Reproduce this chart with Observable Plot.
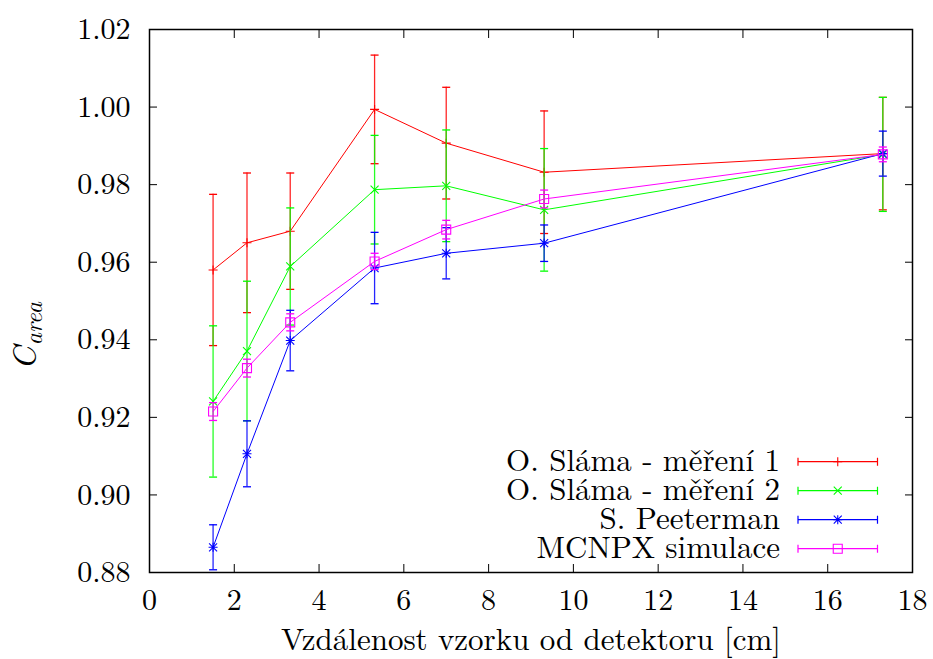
<!DOCTYPE html>
<html><head><meta charset="utf-8">
<script src="https://cdn.jsdelivr.net/npm/d3@7"></script>
<script src="https://cdn.jsdelivr.net/npm/@observablehq/plot@0.6"></script>
<style>body{margin:0;background:#fff;}</style>
</head><body><div id="chart"></div>
<script>
// ---- data ----
const distances = [1.5, 2.3, 3.32, 5.31, 7.0, 9.31, 17.3];
const seriesNames = ["O. Sláma - měření 1", "O. Sláma - měření 2", "S. Peeterman", "MCNPX simulace"];
const seriesColors = ["#ff0000", "#00ff00", "#0000ff", "#ff00ff"];
const slama1    = [0.958, 0.965, 0.968, 0.9994, 0.9907, 0.9832, 0.9880];
const slama1Err = [0.0195, 0.018, 0.015, 0.014, 0.0144, 0.0158, 0.0145];
const slama2    = [0.9241, 0.9371, 0.9589, 0.9787, 0.9797, 0.9735, 0.9878];
const slama2Err = [0.0195, 0.018, 0.0151, 0.014, 0.0144, 0.0158, 0.0147];
const peeterman    = [0.8865, 0.9106, 0.9398, 0.9585, 0.9623, 0.9649, 0.9880];
const peetermanErr = [0.0058, 0.0085, 0.0078, 0.0092, 0.0066, 0.0047, 0.0058];
const mcnpx    = [0.9215, 0.9327, 0.9445, 0.9602, 0.9684, 0.9763, 0.9878];
const mcnpxErr = [0.0023, 0.0023, 0.0022, 0.0021, 0.0024, 0.0023, 0.0019];
const xTicks = [0, 2, 4, 6, 8, 10, 12, 14, 16, 18];
const yTicks = [0.88, 0.90, 0.92, 0.94, 0.96, 0.98, 1.00, 1.02];
const xLabel = "Vzdálenost vzorku od detektoru [cm]";

const seriesValues = [slama1, slama2, peeterman, mcnpx];
const seriesErrors = [slama1Err, slama2Err, peetermanErr, mcnpxErr];

const FONT = "Latin Modern Roman";

// ---- symbols ----
const capSym = {draw(c){c.moveTo(-4,0);c.lineTo(4,0);}};
const plusSym = {draw(c){c.moveTo(-4.5,0);c.lineTo(4.5,0);c.moveTo(0,-4.5);c.lineTo(0,4.5);}};
const timesSym = {draw(c){c.moveTo(-4,-4);c.lineTo(4,4);c.moveTo(-4,4);c.lineTo(4,-4);}};
const starSym = {draw(c){c.moveTo(-4.5,0);c.lineTo(4.5,0);c.moveTo(0,-4.5);c.lineTo(0,4.5);
  c.moveTo(-4,-4);c.lineTo(4,4);c.moveTo(-4,4);c.lineTo(4,-4);}};
const squareSym = {draw(c){c.moveTo(-4.5,-4.5);c.lineTo(4.5,-4.5);c.lineTo(4.5,4.5);c.lineTo(-4.5,4.5);c.closePath();}};
const markerSyms = [plusSym, timesSym, starSym, squareSym];

const marks = [];
seriesValues.forEach((vals, s) => {
  const rows = distances.map((x, i) => ({x, y: vals[i], lo: vals[i] - seriesErrors[s][i], hi: vals[i] + seriesErrors[s][i]}));
  const color = seriesColors[s];
  marks.push(
    Plot.ruleX(rows, {x: "x", y1: "lo", y2: "hi", stroke: color, strokeWidth: 1.3, strokeOpacity: 0.85}),
    Plot.dot(rows, {x: "x", y: "lo", symbol: capSym, stroke: color, fill: "none", strokeWidth: 1.3}),
    Plot.dot(rows, {x: "x", y: "hi", symbol: capSym, stroke: color, fill: "none", strokeWidth: 1.3}),
    Plot.line(rows, {x: "x", y: "y", stroke: color, strokeWidth: 1}),
    Plot.dot(rows, {x: "x", y: "y", symbol: markerSyms[s], stroke: color, fill: "none", strokeWidth: 1.1})
  );
});

const chart = Plot.plot({
  width: 933, height: 659,
  marginLeft: 149, marginRight: 21, marginTop: 29, marginBottom: 87,
  style: {color: "black", background: "white"},
  x: {domain: [0, 18], label: null},
  y: {domain: [0.88, 1.02], label: null},
  marks: [
    ...marks,
    Plot.axisX(xTicks, {anchor: "bottom", tickSize: -8, tickPadding: 24, fontSize: 30, fontFamily: FONT, label: null}),
    Plot.axisX(xTicks, {anchor: "top", tickSize: -8, tickFormat: () => "", label: null}),
    Plot.axisY(yTicks, {anchor: "left", tickSize: -8, tickPadding: 27, fontSize: 30, fontFamily: FONT, tickFormat: d3.format(".2f"), label: null}),
    Plot.axisY(yTicks, {anchor: "right", tickSize: -8, tickFormat: () => "", label: null}),
    Plot.frame({stroke: "black", strokeWidth: 1.5}),
    Plot.text([xLabel], {frameAnchor: "bottom", lineAnchor: "bottom", dy: 77, fontSize: 31, fontFamily: FONT, text: d => d})
  ]
});
document.getElementById("chart").appendChild(chart);

const svg = d3.select(chart);
svg.attr("font-family", FONT);
svg.selectAll("text").attr("font-family", FONT);

// ---- y label with subscript ----
const yl = svg.append("text")
  .attr("transform", "translate(36,336) rotate(-90)")
  .attr("font-family", FONT)
  .attr("font-style", "italic")
  .attr("fill", "black");
yl.append("tspan").attr("font-size", 33).text("C");
yl.append("tspan").attr("font-size", 24).attr("dy", 6).attr("dx", 1).text("area");

// ---- legend ----
const legendTop = 461.7, legendStep = 29, textRight = 780, lineX1 = 798, lineX2 = 877.5;
const lg = svg.append("g");
seriesNames.forEach((name, i) => {
  const y = legendTop + i * legendStep;
  const col = seriesColors[i];
  lg.append("text").attr("x", textRight).attr("y", y + 9).attr("text-anchor", "end")
    .attr("font-family", FONT).attr("font-size", 31).attr("fill", "black").text(name);
  const p = d3.path();
  p.moveTo(lineX1, y); p.lineTo(lineX2, y);
  p.moveTo(lineX1, y - 4); p.lineTo(lineX1, y + 4);
  p.moveTo(lineX2, y - 4); p.lineTo(lineX2, y + 4);
  lg.append("path").attr("d", p.toString()).attr("stroke", col).attr("stroke-width", 1.2).attr("fill", "none");
  const mp = d3.path();
  markerSyms[i].draw(mp);
  lg.append("path").attr("d", mp.toString()).attr("transform", `translate(${(lineX1 + lineX2) / 2},${y})`)
    .attr("stroke", col).attr("stroke-width", 1.1).attr("fill", "none");
});
</script>
</body></html>
